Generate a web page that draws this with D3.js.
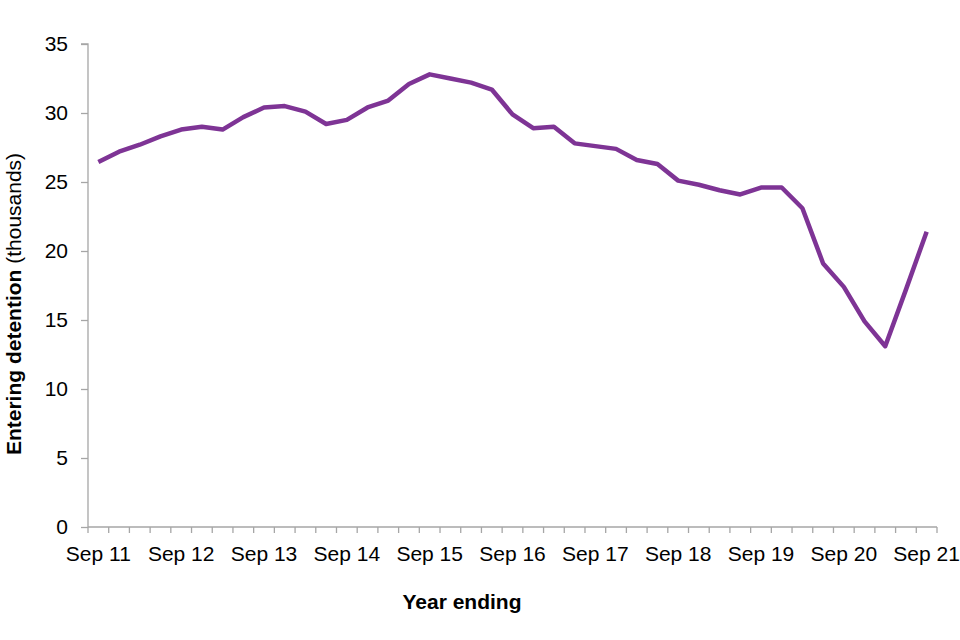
<!DOCTYPE html>
<html><head><meta charset="utf-8">
<script src="https://cdn.jsdelivr.net/npm/d3@7"></script>
<style>body{margin:0;background:#fff}svg{font-family:"Liberation Sans",Arial,sans-serif}</style>
</head><body><svg id="c" width="960" height="640"></svg>
<script>
const years = ["11","12","13","14","15","16","17","18","19","20","21"];
const values = [26.45,27.2,27.7,28.3,28.8,29.0,28.8,29.7,30.4,30.5,
  30.1,29.2,29.5,30.4,30.9,32.1,32.8,32.5,32.2,31.7,
  29.9,28.9,29.0,27.8,27.6,27.4,26.6,26.3,25.1,24.8,
  24.4,24.1,24.6,24.6,23.1,19.1,17.4,14.9,13.1,17.2,21.4];
const yTicks = [0,5,10,15,20,25,30,35];
const xLabels = years.map(y => "Sep " + y);

(function(){
const svg = d3.select("#c");
const mL = 88, mR = 937, mT = 44, mB = 527;
const x = d3.scaleBand().domain(d3.range(values.length)).range([mL, mR]);
const y = d3.scaleLinear().domain([0,35]).range([mB, mT]);
const axisCol = "#a6a6a6";

const ya = svg.append("g").attr("transform", `translate(${mL},0)`)
  .call(d3.axisLeft(y).tickValues(yTicks).tickSize(7).tickPadding(13));
ya.selectAll("path,line").attr("stroke", axisCol).attr("stroke-width", 1.3);
ya.select(".domain").attr("d", `M-7,${mT}H0V${mB}`);
ya.selectAll("text").attr("font-size", 21).attr("fill", "#000")
  .attr("font-family", "Liberation Sans, Arial, sans-serif");

const xa = svg.append("g").attr("transform", `translate(0,${mB})`);
xa.append("line").attr("x1", mL).attr("x2", mR).attr("y1", 0).attr("y2", 0)
  .attr("stroke", axisCol).attr("stroke-width", 1.3);
const bounds = d3.range(values.length + 1).map(i => i < values.length ? x(i) : x(values.length-1) + x.bandwidth());
xa.selectAll("line.t").data(bounds).join("line").attr("class","t")
  .attr("x1", d => d).attr("x2", d => d).attr("y1", 0).attr("y2", 6)
  .attr("stroke", axisCol).attr("stroke-width", 1.3);
xa.selectAll("text").data(xLabels).join("text")
  .attr("x", (d,i) => x(i*4) + x.bandwidth()/2).attr("y", 34)
  .attr("text-anchor", "middle").attr("font-size", 21).attr("fill", "#000").text(d => d);

const line = d3.line().x((d,i) => x(i) + x.bandwidth()/2).y(d => y(d));
svg.append("path").datum(values).attr("d", line).attr("fill", "none")
  .attr("stroke", "#7e3495").attr("stroke-width", 4.5).attr("stroke-linejoin", "round");

svg.append("text").attr("x", 462).attr("y", 609).attr("text-anchor", "middle")
  .attr("font-size", 21).attr("font-weight", "bold").text("Year ending");
const yt = svg.append("text").attr("transform", "translate(21,304) rotate(-90)")
  .attr("text-anchor", "middle").attr("font-size", 21);
yt.append("tspan").attr("font-weight", "bold").text("Entering detention");
yt.append("tspan").text(" (thousands)");
})();
</script></body></html>
